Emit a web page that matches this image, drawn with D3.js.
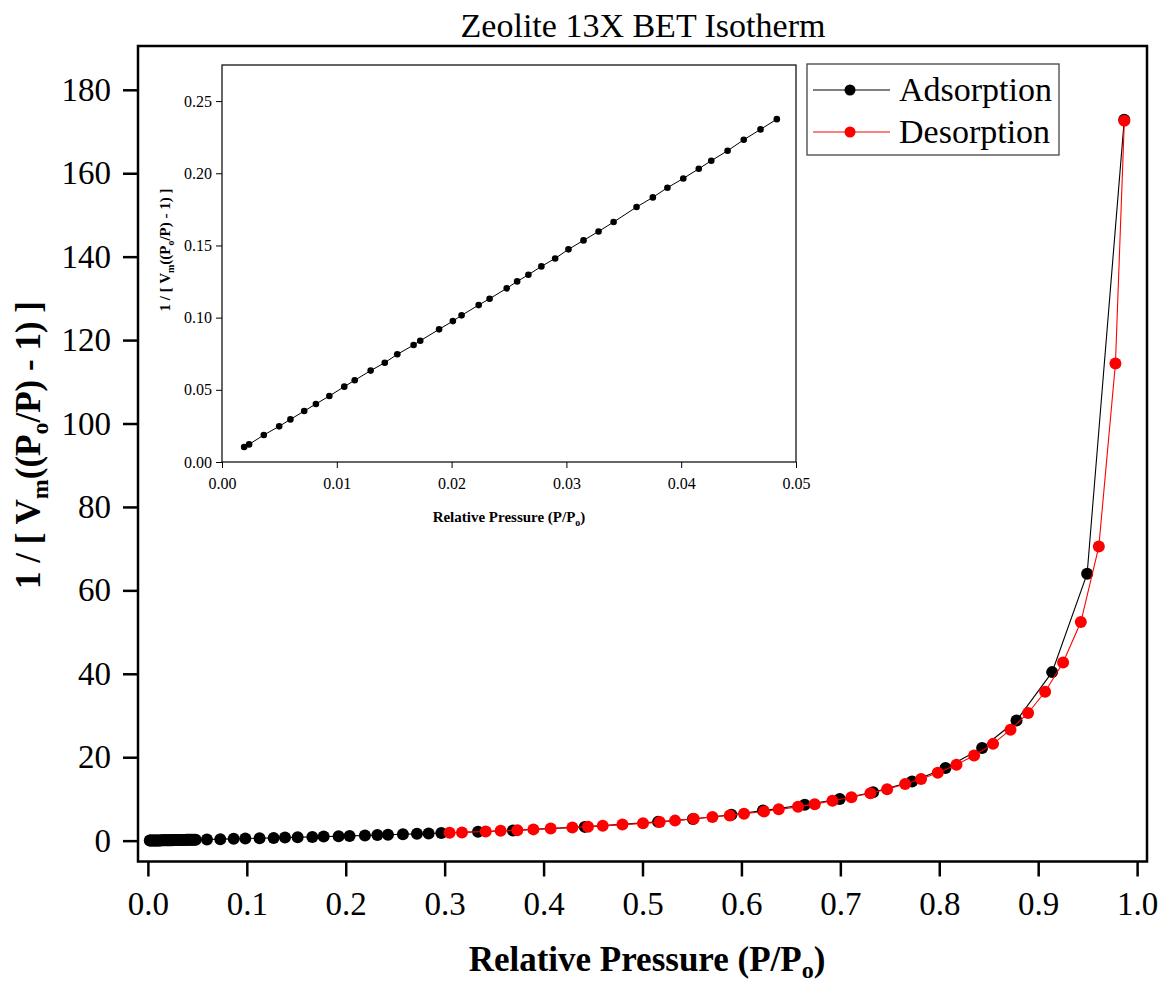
<!DOCTYPE html>
<html>
<head>
<meta charset="utf-8">
<script src="https://cdn.jsdelivr.net/npm/d3@7"></script>
<style>
    body { margin: 0; background: #fff; }
    svg { display: block; font-family: "Liberation Serif", "Times New Roman", serif; }
</style>
</head>
<body>
<div id="chart"></div>
<script>
// low pressure BET range (shown in the inset and at the start of adsorption)
const lowP = [0.00193, 0.00236, 0.00364, 0.00498, 0.00596, 0.00716, 0.00818, 0.00935, 0.01065, 0.01156,
    0.01295, 0.01418, 0.01527, 0.01669, 0.01727, 0.01891, 0.02011, 0.02087, 0.02236, 0.02331,
    0.0248, 0.02571, 0.02669, 0.02782, 0.02902, 0.03018, 0.03149, 0.0328, 0.03411, 0.03611,
    0.03753, 0.0388, 0.04018, 0.04153, 0.04262, 0.04404, 0.04545, 0.04691, 0.04833];
const lowY = [0.0104, 0.0122, 0.0187, 0.0247, 0.0295, 0.0353, 0.0402, 0.0457, 0.0522, 0.0566,
    0.0633, 0.0688, 0.0746, 0.0810, 0.0840, 0.0919, 0.0976, 0.1016, 0.1087, 0.1131,
    0.1203, 0.1251, 0.1297, 0.1355, 0.1410, 0.1473, 0.1535, 0.1597, 0.1662, 0.1766,
    0.1833, 0.1900, 0.1964, 0.2031, 0.2087, 0.2156, 0.2232, 0.2304, 0.2375];

// rest of the adsorption branch
const adsP = [0.0597, 0.0732, 0.0867, 0.0985, 0.1129, 0.1271, 0.1386, 0.1514, 0.1662, 0.1777,
    0.1928, 0.2039, 0.2194, 0.2320, 0.2427, 0.2578, 0.2720, 0.2838, 0.2966, 0.3337,
    0.369, 0.4416, 0.5157, 0.551, 0.5899, 0.6218, 0.664, 0.6994, 0.7331, 0.7725,
    0.8063, 0.8433, 0.8781, 0.9141, 0.9495, 0.987];
const adsY = [0.29, 0.36, 0.43, 0.50, 0.58, 0.66, 0.73, 0.81, 0.90, 0.97,
    1.07, 1.14, 1.25, 1.33, 1.41, 1.52, 1.63, 1.72, 1.82, 2.12,
    2.45, 3.3, 4.5, 5.2, 6.2, 7.2, 8.6, 10.0, 11.6, 14.2,
    17.4, 22.2, 28.8, 40.4, 64.0, 172.8];

// desorption branch
const desP = [0.305, 0.3175, 0.3415, 0.3566, 0.3735, 0.3897, 0.4072, 0.4291, 0.4449, 0.4598,
    0.4797, 0.5005, 0.5174, 0.5329, 0.5518, 0.5707, 0.5882, 0.6026, 0.6229, 0.6377,
    0.6572, 0.6741, 0.692, 0.7112, 0.7304, 0.7473, 0.7655, 0.7816, 0.7985, 0.8174,
    0.8352, 0.8544, 0.872, 0.8898, 0.907, 0.9252, 0.9431, 0.9613, 0.9781, 0.9871];
const desY = [1.88, 1.98, 2.2, 2.35, 2.5, 2.7, 2.9, 3.15, 3.35, 3.55,
    3.85, 4.15, 4.45, 4.8, 5.25, 5.65, 6.05, 6.45, 7.0, 7.5,
    8.1, 8.75, 9.55, 10.4, 11.35, 12.3, 13.6, 14.8, 16.3, 18.2,
    20.4, 23.2, 26.6, 30.6, 35.7, 42.7, 52.4, 70.5, 114.4, 172.6];

const xTicks = [0, 0.1, 0.2, 0.3, 0.4, 0.5, 0.6, 0.7, 0.8, 0.9, 1.0];
const yTicks = [0, 20, 40, 60, 80, 100, 120, 140, 160, 180];
const insetXTicks = [0, 0.01, 0.02, 0.03, 0.04, 0.05];
const insetYTicks = [0, 0.05, 0.10, 0.15, 0.20, 0.25];
const seriesNames = ["Adsorption", "Desorption"];
const seriesColors = ["#000000", "#ff0000"];

const width = 1162, height = 983;
const serif = '"Liberation Serif", "Times New Roman", serif';

function zip(xs, ys) {
    return xs.map((x, i) => ({ p: x, v: ys[i] }));
}

// minor ticks between majors
function minorTicks(lo, hi, step, majors) {
    let res = [];
    for (let i = Math.ceil(lo / step - 1e-9); i * step <= hi + 1e-9; i++) {
        let v = +(i * step).toFixed(6);
        if (!majors.some(m => Math.abs(m - v) < 1e-9)) res.push(v);
    }
    return res;
}

// adds text with subscripts, e.g. ["P/P", {sub: "o"}, ")"]
function richText(sel, parts, subSize, subShift) {
    let shift = 0;
    parts.forEach(part => {
        if (typeof part === "string") {
            let t = sel.append("tspan").text(part);
            if (shift) t.attr("dy", -shift);
            shift = 0;
        } else {
            sel.append("tspan").attr("dy", subShift).style("font-size", subSize + "px").text(part.sub);
            shift = subShift;
        }
    });
}

function styleAxis(g, size, width) {
    g.attr("font-family", serif);
    g.selectAll(".domain").remove();
    g.selectAll("line").attr("stroke-width", width);
    g.selectAll("text").style("font-size", size + "px").attr("fill", "#000");
}

const svg = d3.select("#chart").append("svg")
    .attr("width", width)
    .attr("height", height);

// ---------- main plot ----------
const x = d3.scaleLinear().domain([-0.01, 1.01]).range([138, 1147]);
const y = d3.scaleLinear().domain([-5, 190.5]).range([861.5, 46]);

const adsorption = zip(lowP, lowY).concat(zip(adsP, adsY));
const desorption = zip(desP, desY);

// x-axis
let gx = svg.append("g").attr("transform", "translate(0," + y.range()[0] + ")");
gx.call(d3.axisBottom(x).tickValues(minorTicks(0, 1, 0.02, xTicks)).tickSize(8).tickFormat(""));
gx.call(d3.axisBottom(x).tickValues(xTicks).tickSize(15).tickPadding(15).tickFormat(d3.format(".1f")));
styleAxis(gx, 33, 2.5);

// y-axis
let gy = svg.append("g").attr("transform", "translate(" + x.range()[0] + ",0)");
gy.call(d3.axisLeft(y).tickValues(minorTicks(-4, 190, 4, yTicks)).tickSize(8).tickFormat(""));
gy.call(d3.axisLeft(y).tickValues(yTicks).tickSize(15).tickPadding(12));
styleAxis(gy, 33, 2.5);

// series
const line = d3.line().x(d => x(d.p)).y(d => y(d.v));
[adsorption, desorption].forEach((data, i) => {
    svg.append("path")
        .datum(data)
        .attr("d", line)
        .attr("fill", "none")
        .attr("stroke", seriesColors[i])
        .attr("stroke-width", 1.1);
    svg.selectAll(".dot" + i)
        .data(data)
        .enter()
        .append("circle")
        .attr("class", "dot" + i)
        .attr("cx", d => x(d.p))
        .attr("cy", d => y(d.v))
        .attr("r", 6)
        .attr("fill", seriesColors[i]);
});

// frame
svg.append("rect")
    .attr("x", x.range()[0]).attr("y", y.range()[1])
    .attr("width", x.range()[1] - x.range()[0])
    .attr("height", y.range()[0] - y.range()[1])
    .attr("fill", "none").attr("stroke", "#000").attr("stroke-width", 2.5);

// title
svg.append("text")
    .attr("x", 643).attr("y", 37)
    .attr("text-anchor", "middle")
    .style("font-size", "34px")
    .text("Zeolite 13X BET Isotherm");

// axis titles
let xt = svg.append("text")
    .attr("x", 647).attr("y", 971)
    .attr("text-anchor", "middle")
    .style("font-size", "35px").style("font-weight", "bold");
richText(xt, ["Relative Pressure (P/P", { sub: "o" }, ")"], 24, 7);

let yt = svg.append("text")
    .attr("transform", "translate(40,445) rotate(-90)")
    .attr("text-anchor", "middle")
    .style("font-size", "35px").style("font-weight", "bold");
richText(yt, ["1 / [ V", { sub: "m" }, "((P", { sub: "o" }, "/P) - 1) ]"], 24, 8);

// ---------- legend ----------
let legend = svg.append("g");
legend.append("rect")
    .attr("x", 807).attr("y", 64).attr("width", 252).attr("height", 91)
    .attr("fill", "#fff").attr("stroke", "#444").attr("stroke-width", 1.3);
seriesNames.forEach((name, i) => {
    let cy = 90 + i * 42;
    legend.append("line")
        .attr("x1", 813).attr("x2", 890).attr("y1", cy).attr("y2", cy)
        .attr("stroke", seriesColors[i]).attr("stroke-width", 1.1);
    legend.append("circle")
        .attr("cx", 850).attr("cy", cy).attr("r", 5.5)
        .attr("fill", seriesColors[i]);
    legend.append("text")
        .attr("x", 899).attr("y", cy + 11)
        .style("font-size", "34px")
        .text(name);
});

// ---------- inset ----------
const xi = d3.scaleLinear().domain([0, 0.05]).range([222, 796]);
const yi = d3.scaleLinear().domain([0, 0.275]).range([462, 65]);
const inset = svg.append("g");
const lowData = zip(lowP, lowY);

let ix = inset.append("g").attr("transform", "translate(0," + yi.range()[0] + ")");
ix.call(d3.axisBottom(xi).tickValues(minorTicks(0, 0.05, 0.002, insetXTicks)).tickSize(3).tickFormat(""));
ix.call(d3.axisBottom(xi).tickValues(insetXTicks).tickSize(6).tickPadding(10).tickFormat(d3.format(".2f")));
styleAxis(ix, 16, 1);

let iy = inset.append("g").attr("transform", "translate(" + xi.range()[0] + ",0)");
iy.call(d3.axisLeft(yi).tickValues(minorTicks(0, 0.275, 0.025, insetYTicks)).tickSize(3).tickFormat(""));
iy.call(d3.axisLeft(yi).tickValues(insetYTicks).tickSize(6).tickPadding(4).tickFormat(d3.format(".2f")));
styleAxis(iy, 16, 1);

inset.append("path")
    .datum(lowData)
    .attr("d", d3.line().x(d => xi(d.p)).y(d => yi(d.v)))
    .attr("fill", "none").attr("stroke", "#000").attr("stroke-width", 1);
inset.selectAll(".idot")
    .data(lowData)
    .enter()
    .append("circle")
    .attr("class", "idot")
    .attr("cx", d => xi(d.p))
    .attr("cy", d => yi(d.v))
    .attr("r", 3.3)
    .attr("fill", "#000");

inset.append("rect")
    .attr("x", xi.range()[0]).attr("y", yi.range()[1])
    .attr("width", xi.range()[1] - xi.range()[0])
    .attr("height", yi.range()[0] - yi.range()[1])
    .attr("fill", "none").attr("stroke", "#000").attr("stroke-width", 1.2);

let ixt = inset.append("text")
    .attr("x", 509).attr("y", 522)
    .attr("text-anchor", "middle")
    .style("font-size", "15px").style("font-weight", "bold");
richText(ixt, ["Relative Pressure (P/P", { sub: "o" }, ")"], 10, 4);

let iyt = inset.append("text")
    .attr("transform", "translate(170,250) rotate(-90)")
    .attr("text-anchor", "middle")
    .style("font-size", "15px").style("font-weight", "bold");
richText(iyt, ["1 / [ V", { sub: "m" }, "((P", { sub: "o" }, "/P) - 1) ]"], 10, 4);
</script>
</body>
</html>
